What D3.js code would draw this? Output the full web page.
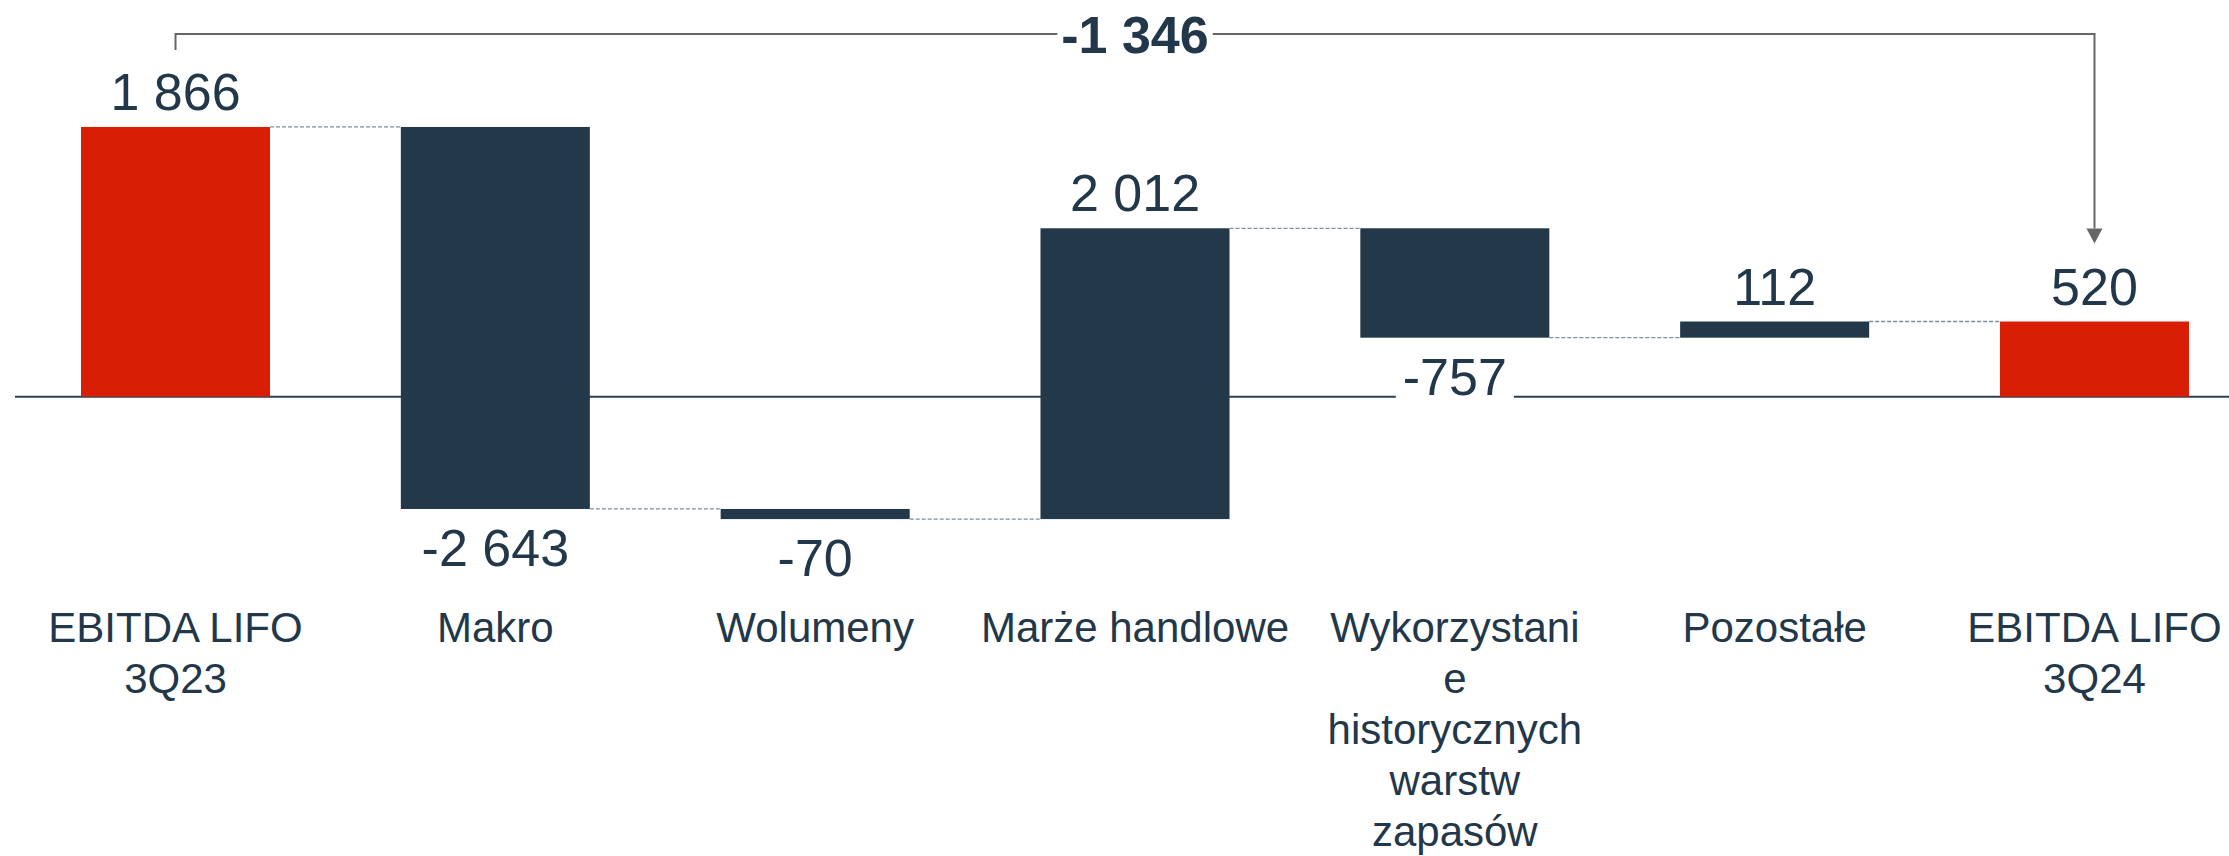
<!DOCTYPE html>
<html><head><meta charset="utf-8">
<script src="https://cdn.jsdelivr.net/npm/d3@7"></script>
<style>
body{margin:0;background:#fff}
svg{display:block}
text{font-family:"Liberation Sans",Arial,Helvetica,sans-serif}
</style>
</head><body>
<svg id="chart" width="2229" height="856"></svg>
<script>
// ---- data ----
const categories = [
  "EBITDA LIFO\n3Q23",
  "Makro",
  "Wolumeny",
  "Marże handlowe",
  "Wykorzystani\ne\nhistorycznych\nwarstw\nzapasów",
  "Pozostałe",
  "EBITDA LIFO\n3Q24"
];
const values = [1866, -2643, -70, 2012, -757, 112, 520];
const barTypes = ["total", "delta", "delta", "delta", "delta", "delta", "total"];

// ---- styles ----
const RED = "#D81E05", NAVY = "#233849", TEXT = "#22384a";

const locale = d3.formatLocale({decimal: ",", thousands: " ", grouping: [3], currency: ["", ""], minus: "-"});
const fmt = locale.format(",");

// build waterfall steps
let running = 0;
const steps = categories.map((c, i) => {
  let start, end;
  if (barTypes[i] === "total") { start = 0; end = values[i]; running = values[i]; }
  else { start = running; end = running + values[i]; running = end; }
  return {cat: c, value: values[i], type: barTypes[i], start, end, lo: Math.min(start, end), hi: Math.max(start, end)};
});

const svg = d3.select("#chart");

const x = d3.scaleBand().domain(categories).range([81, 2189]).paddingInner(0.409).paddingOuter(0);
const y = d3.scaleLinear().domain([-1000, 2000]).range([541.2, 107.6]);

// baseline
svg.append("line")
  .attr("x1", 15).attr("x2", 2229)
  .attr("y1", y(0)).attr("y2", y(0))
  .attr("stroke", "#2b4153").attr("stroke-width", 2);

// bars
svg.selectAll("rect.bar").data(steps).join("rect")
  .attr("class", "bar")
  .attr("x", d => x(d.cat))
  .attr("width", x.bandwidth())
  .attr("y", d => y(d.hi))
  .attr("height", d => y(d.lo) - y(d.hi))
  .attr("fill", d => d.type === "total" ? RED : NAVY);

// connectors
svg.selectAll("line.conn").data(steps.slice(0, -1)).join("line")
  .attr("class", "conn")
  .attr("x1", d => x(d.cat) + x.bandwidth())
  .attr("x2", (d, i) => x(steps[i + 1].cat))
  .attr("y1", d => y(d.end)).attr("y2", d => y(d.end))
  .attr("stroke", "#7f8d9b").attr("stroke-width", 1.3)
  .attr("stroke-dasharray", "4,2");

// value labels
const lblG = svg.append("g");
steps.forEach(d => {
  const cx = x(d.cat) + x.bandwidth() / 2;
  const yy = d.value >= 0 ? y(d.hi) - 17 : y(d.lo) + 57;
  const g = lblG.append("g");
  const bg = g.append("rect").attr("fill", "#fff");
  const t = g.append("text")
    .attr("x", cx).attr("y", yy)
    .attr("text-anchor", "middle")
    .attr("font-size", 52)
    .attr("fill", TEXT)
    .text(fmt(d.value));
  const bb = t.node().getBBox();
  bg.attr("x", bb.x - 7).attr("y", bb.y).attr("width", bb.width + 14).attr("height", bb.height);
});

// category labels
svg.selectAll("text.cat").data(steps).join("text")
  .attr("class", "cat")
  .attr("text-anchor", "middle")
  .attr("font-size", 42)
  .attr("fill", TEXT)
  .each(function(d) {
    const cx = x(d.cat) + x.bandwidth() / 2;
    d3.select(this).selectAll("tspan").data(d.cat.split("\n")).join("tspan")
      .attr("x", cx)
      .attr("y", (l, i) => 642 + i * 51)
      .text(l => l);
  });

// total change bracket
const first = steps[0], last = steps[steps.length - 1];
const x1 = x(first.cat) + x.bandwidth() / 2;
const x2 = x(last.cat) + x.bandwidth() / 2;
const by = 34;
const change = last.end - first.end;
const midX = (x1 + x2) / 2;
const bt = svg.append("text")
  .attr("x", midX).attr("y", by + 18.5)
  .attr("text-anchor", "middle")
  .attr("font-size", 52).attr("font-weight", "bold")
  .attr("fill", TEXT)
  .text(fmt(change));
const tb = bt.node().getBBox();
const GRAY = "#666666";
const leftTop = y(first.end) - 77;
svg.append("path")
  .attr("d", `M${x1},${leftTop} V${by} H${tb.x - 4}`)
  .attr("fill", "none").attr("stroke", GRAY).attr("stroke-width", 2);
const tipY = y(last.end) - 78;
svg.append("path")
  .attr("d", `M${tb.x + tb.width + 4},${by} H${x2} V${tipY - 15}`)
  .attr("fill", "none").attr("stroke", GRAY).attr("stroke-width", 2);
svg.append("path")
  .attr("d", `M${x2 - 8},${tipY - 15} L${x2 + 8},${tipY - 15} L${x2},${tipY} Z`)
  .attr("fill", GRAY);
</script>
</body></html>
